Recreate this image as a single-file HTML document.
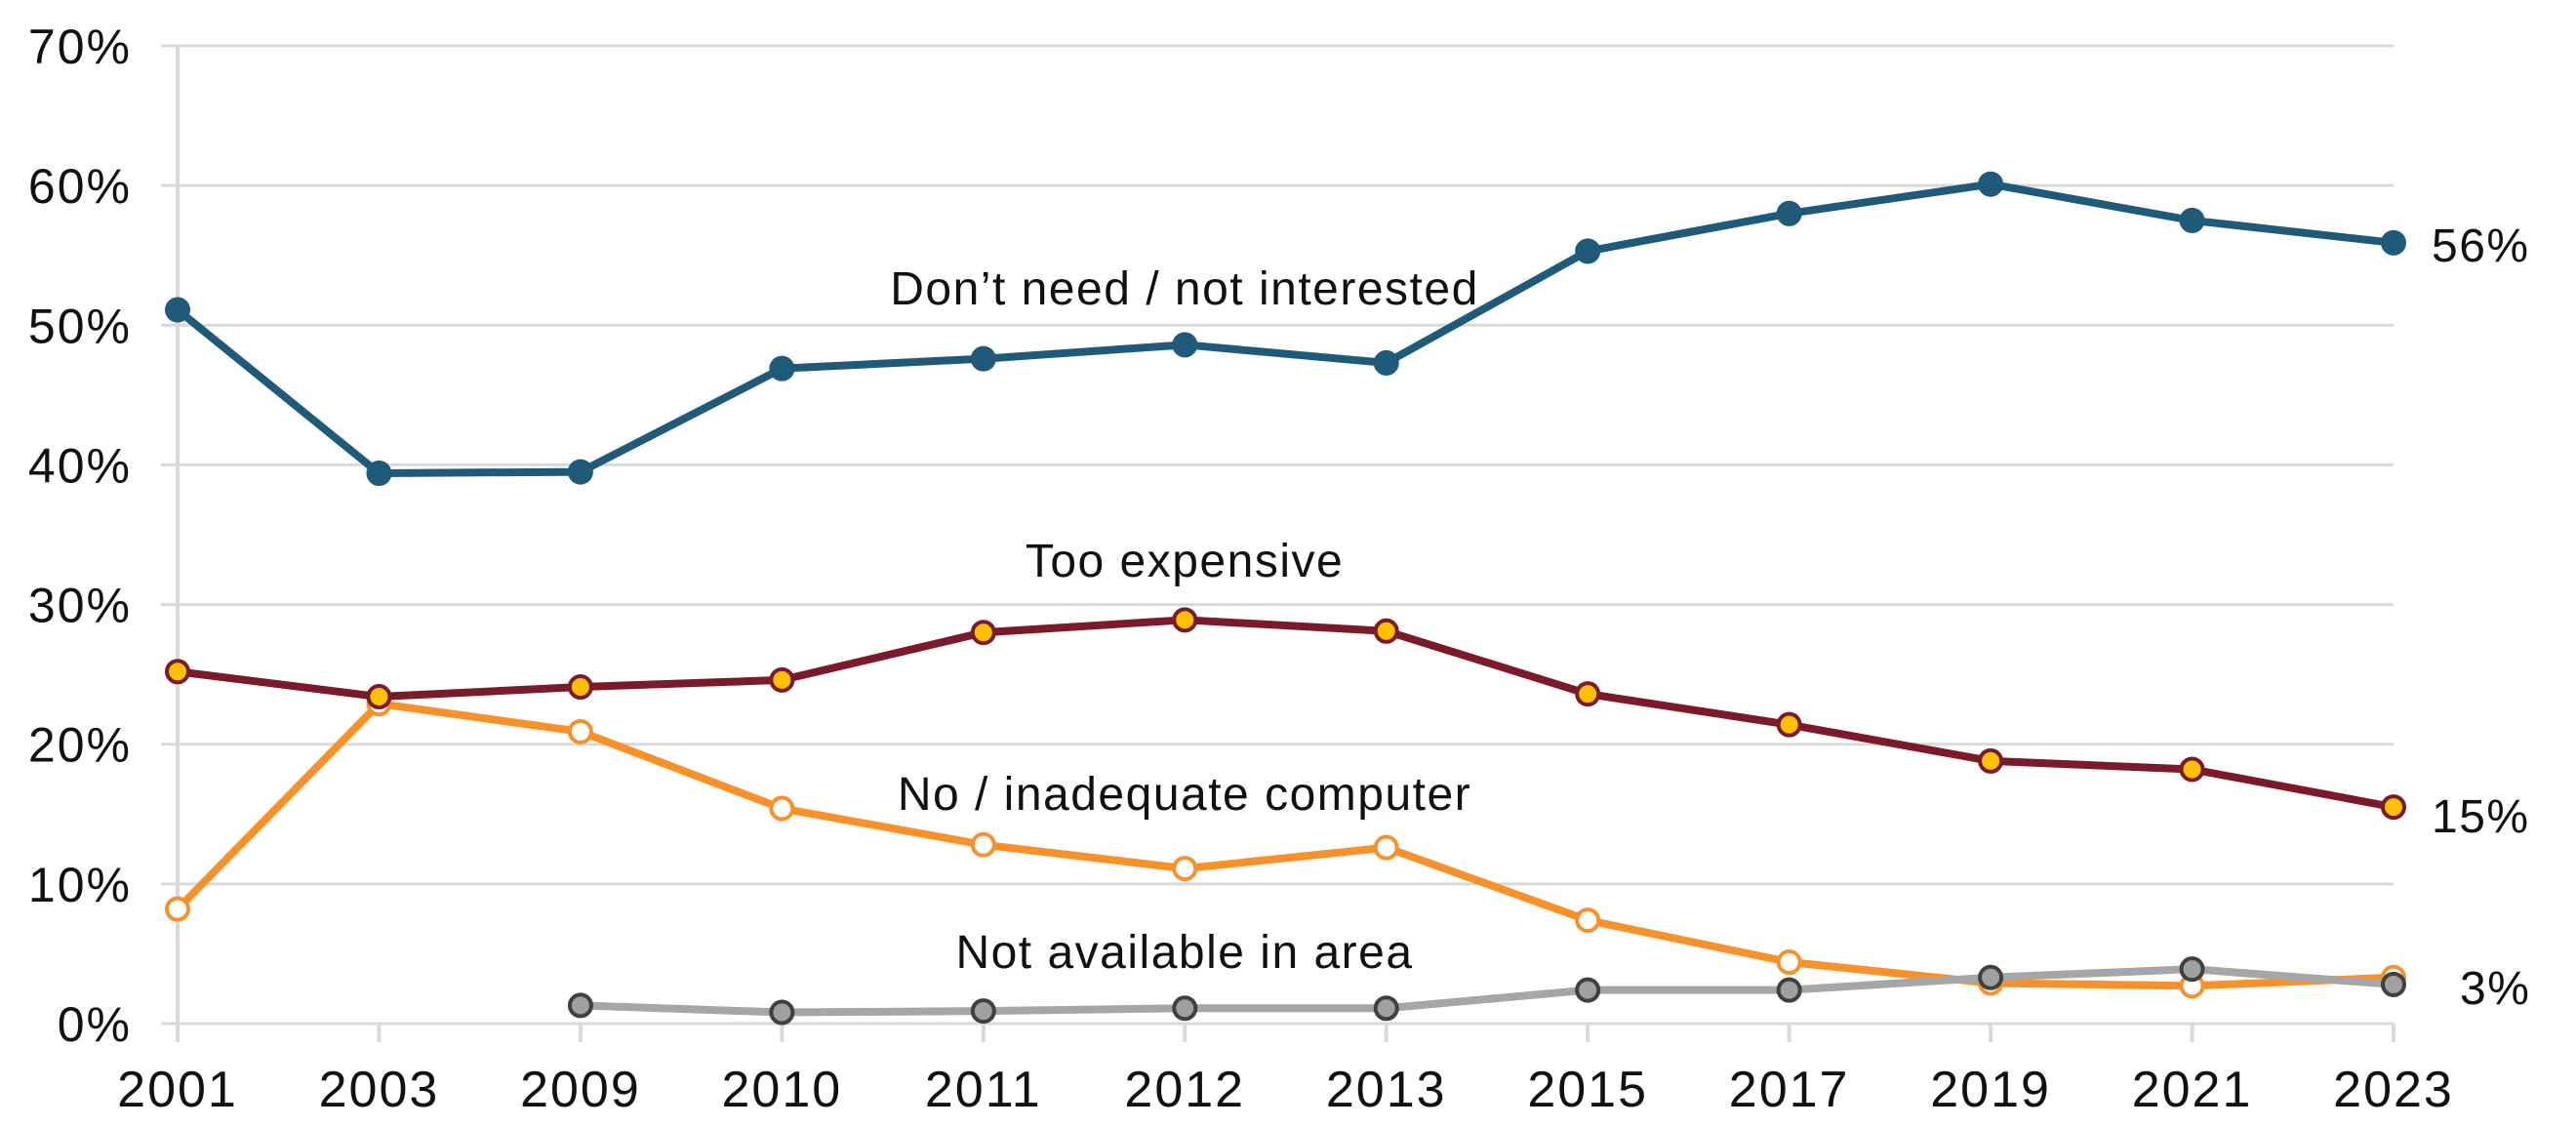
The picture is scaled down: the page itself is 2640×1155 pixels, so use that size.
<!DOCTYPE html>
<html><head><meta charset="utf-8"><style>
html,body{margin:0;padding:0;background:#fff;}
svg{display:block;font-family:"Liberation Sans",sans-serif;}
</style></head><body>
<svg id="chart" width="2640" height="1155" viewBox="0 0 2640 1155" xmlns="http://www.w3.org/2000/svg">
<g id="grid"></g>
<g id="axes"></g>
<g id="series"></g>
<g id="labels"></g>
</svg>
<script>
const categories = ["2001","2003","2009","2010","2011","2012","2013","2015","2017","2019","2021","2023"];
const yTicks = [0,10,20,30,40,50,60,70];
const dontNeed = [51.1,39.4,39.5,46.9,47.6,48.6,47.3,55.3,58.0,60.1,57.5,55.9];
const tooExpensive = [25.2,23.4,24.1,24.6,28.0,28.9,28.1,23.6,21.4,18.8,18.2,15.5];
const noComputer = [8.2,22.9,20.9,15.4,12.8,11.1,12.6,7.4,4.4,2.9,2.7,3.3];
const notAvailable = [null,null,1.3,0.8,0.9,1.1,1.1,2.4,2.4,3.3,3.9,2.8];
const endLabels = ["56%","15%","3%"];

const NS="http://www.w3.org/2000/svg";
const X0=182,X1=2453,Y0=1049,Y70=47;
const x=i=>X0+(X1-X0)*i/(categories.length-1);
const y=v=>Y0-(Y0-Y70)*v/70;
function mk(tag,attrs,parent){const e=document.createElementNS(NS,tag);for(const k in attrs)e.setAttribute(k,attrs[k]);parent.appendChild(e);return e;}
const grid=document.getElementById('grid'),axes=document.getElementById('axes'),ser=document.getElementById('series'),lab=document.getElementById('labels');

yTicks.forEach(t=>{
  const l=mk('line',{x1:165,x2:X1,y1:y(t),y2:y(t),stroke:'#d9d9d9','stroke-width':3},grid);
  
  
  const tx=mk('text',{x:135,y:y(t)+18,'text-anchor':'end','font-size':50,'letter-spacing':2,fill:'#111'},axes);
  tx.textContent=t+'%';
  
  
});
const va=mk('line',{x1:X0,x2:X0,y1:y(70),y2:1068,stroke:'#d9d9d9','stroke-width':4},axes);


categories.forEach((c,i)=>{
  const tk=mk('line',{x1:x(i),x2:x(i),y1:Y0,y2:1068,stroke:'#d9d9d9','stroke-width':4},axes);
  
  
  const tx=mk('text',{x:x(i),y:1134,'text-anchor':'middle','font-size':52,'letter-spacing':2,fill:'#111'},axes);
  tx.textContent=c;
  
  
});

function drawSeries(name,vals,line,fill,mstroke){
  const g=mk('g',{},ser);
  
  
  let d='';
  vals.forEach((v,i)=>{if(v==null)return;d+=(d?'L':'M')+x(i)+','+y(v);});
  const p=mk('path',{d:d,fill:'none',stroke:line,'stroke-width':8,'stroke-linejoin':'round'},g);
  
  
  vals.forEach((v,i)=>{if(v==null)return;
    const c=mk('circle',{cx:x(i),cy:y(v),r:11,fill:fill,stroke:mstroke,'stroke-width':4},g);
    
    
  });
}
drawSeries('no-computer',noComputer,'#f7912a','#fff','#f7912a');
drawSeries('not-available',notAvailable,'#a6a6a6','#a0a0a0','#404040');
drawSeries('too-expensive',tooExpensive,'#7b1a2a','#ffc000','#7b1a2a');
drawSeries('dont-need',dontNeed,'#1f5a7a','#1f5a7a','#1f5a7a');

function txt(s,xx,yy,anchor,name){
  const t=mk('text',{x:xx,y:yy,'text-anchor':anchor,'font-size':48,'letter-spacing':1.5,fill:'#111'},lab);
  t.textContent=s;
  
  
}
txt("Don\u2019t need / not interested",1214,312,'middle','dont-need-label');
txt("Too expensive",1214,591,'middle','too-expensive-label');
txt("No / inadequate computer",1214,830,'middle','no-computer-label');
txt("Not available in area",1214,992,'middle','not-available-label');
txt(endLabels[0],2492,268,'start','dont-need-end-value');
txt(endLabels[1],2492,853,'start','too-expensive-end-value');
txt(endLabels[2],2521,1029,'start','not-available-end-value');
</script>
</body></html>
